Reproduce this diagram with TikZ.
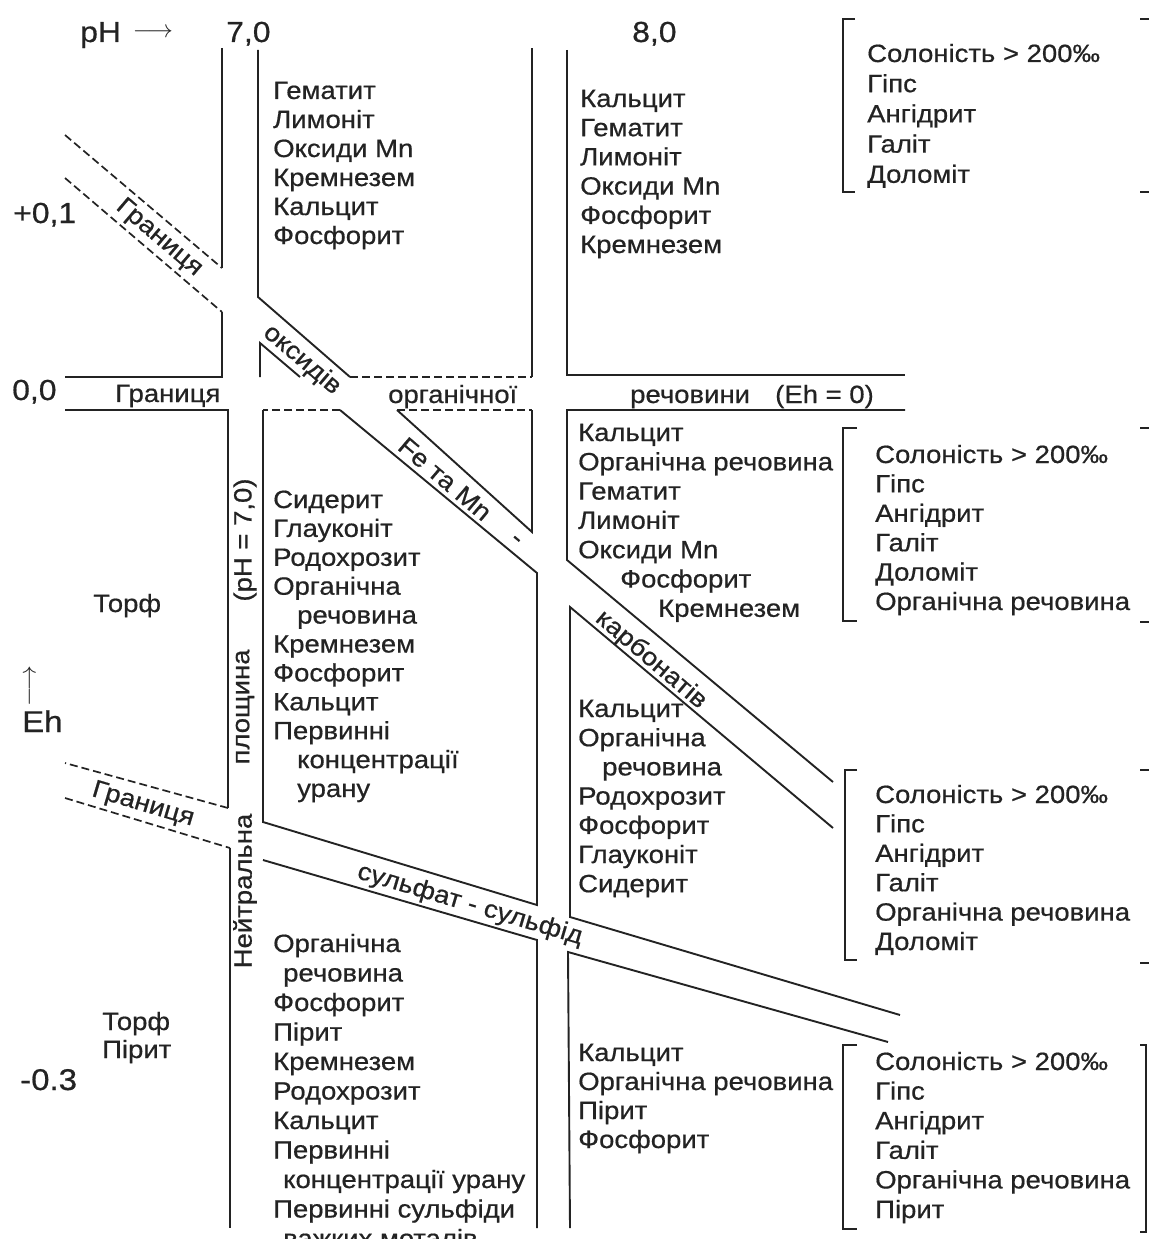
\documentclass[tikz,border=0pt]{standalone}
\usepackage{fontspec}
\setmainfont{Liberation Sans}[FakeStretch=1.1, FakeBold=0.6]
\definecolor{ink}{RGB}{35,35,35}
\tikzset{
  ln/.style={draw=ink, line width=1.9pt},
  dsh/.style={draw=ink, line width=1.7pt, dash pattern=on 8pt off 4pt},
  txt/.style={inner sep=0pt, text=ink, font=\fontsize{25}{29}\selectfont, anchor=base west},
  axl/.style={inner sep=0pt, text=ink, font=\fontsize{29}{33}\selectfont, anchor=base west},
  rot/.style={inner sep=0pt, text=ink, font=\fontsize{25}{29}\selectfont, anchor=center},
}
\newcommand\mincol[5]{\foreach \t [count=\i] in {#5}{\node[txt] (#1\i) at ({#2},{#3+(\i-1)*#4}) {\t};}}
\begin{document}
\begin{tikzpicture}[x=1pt,y=-1pt]
\useasboundingbox (0,0) rectangle (1149,1239);
% ---------- axis labels
\node[axl] (ph) at (80,42) {pH};
\node[inner sep=0pt, text=ink, font=\fontsize{24}{28}\selectfont] (pharrow) at (153,33) {$\longrightarrow$};
\node[axl] (ph7) at (226,42) {7,0};
\node[axl] (ph8) at (632,42) {8,0};
\node[axl] (ehp) at (13,223) {+0,1};
\node[axl] (ehz) at (12,400) {0,0};
\node[axl, font=\fontsize{30}{34}\selectfont] (ehm) at (20,1090) {-0.3};
\node[inner sep=0pt, text=ink, font=\fontsize{24}{28}\selectfont, rotate=90] (eharrow) at (31,686) {$\longrightarrow$};
\node[axl, font=\fontsize{30}{34}\selectfont] (eh) at (22,732) {Eh};
% ---------- lines: upper part
\draw[ln] (222,48) -- (222,268);
\draw[dsh] (65,135) -- (222,268);
\draw[dsh] (65,178) -- (222,312);
\draw[ln] (222,312) -- (222,377) -- (65,377);
\draw[ln] (258,50) -- (258,297) -- (350,377);
\draw[dsh] (350,377) -- (532,377);
\draw[ln] (532,377) -- (532,48);
\draw[ln] (260,377) -- (260,343) -- (300,377);
\draw[ln] (567,50) -- (567,375) -- (905,375);
% ---------- lines: middle
\draw[ln] (905,410) -- (567,410) -- (567,560) -- (833,782);
\draw[ln] (833,828) -- (570,607) -- (570,917) -- (900,1015);
\draw[ln] (888,1042) -- (568,952) -- (570,1228);
\draw[ln] (65,410) -- (228,410) -- (228,808);
\draw[dsh] (228,808) -- (65,763);
\draw[dsh] (65,798) -- (230,848);
\draw[ln] (230,848) -- (230,1228);
\draw[dsh] (340,410) -- (263,410);
\draw[ln] (263,410) -- (263,822) -- (537,905) -- (537,573) -- (340,410);
\draw[dsh] (397,410) -- (532,410);
\draw[ln] (532,410) -- (532,532) -- (397,410);
\draw[ln] (263,860) -- (537,940) -- (537,1228);
% ---------- brackets
\draw[ln] (855,19) -- (843,19) -- (843,192) -- (855,192);
\draw[ln] (857,428) -- (843,428) -- (843,621) -- (857,621);
\draw[ln] (857,770) -- (845,770) -- (845,960) -- (857,960);
\draw[ln] (857,1045) -- (843,1045) -- (843,1229) -- (857,1229);
\foreach \yy in {19,192,428,622,770,963} {\draw[ln] (1140,\yy) -- (1149,\yy);}
\draw[ln] (1140,1045) -- (1146,1045) -- (1146,1232) -- (1140,1232);
% ---------- band labels
\node[txt] (gr0) at (115,402) {Границя};
\node[txt] (org0) at (388,403) {органічної};
\node[txt] (rech0) at (630,403) {речовини};
\node[txt] (eh0) at (775,403) {(Eh = 0)};
\node[rot, rotate=-40.4] (gr1) at (159,238) {Границя};
\node[rot, rotate=-40.4] (oks) at (302,360) {оксидів};
\node[rot, rotate=-40.4] (femn) at (445,479) {Fe та Mn};
\node[rot, rotate=-40.4] (dash) at (515,541) {-};
\node[rot, rotate=-40.4] (karb) at (651,660) {карбонатів};
\node[rot, rotate=-16.5] (gr2) at (143,805) {Границя};
\node[rot, rotate=-16.5] (sulf) at (470,905) {сульфат - сульфід};
\node[rot, rotate=90] (neut) at (245,891) {Нейтральна};
\node[rot, rotate=90] (plos) at (245,707) {площина};
\node[rot, rotate=90] (ph70) at (245,540) {(pH = 7,0)};
% ---------- left texts
\node[txt] (torf1) at (93,612) {Торф};
\node[txt] (torf2) at (102,1030) {Торф};
\node[txt] (pyr2) at (102,1058) {Пірит};
% ---------- mineral columns
\mincol{A}{273}{99}{29}{Гематит, Лимоніт, Оксиди Mn, Кремнезем, Кальцит, Фосфорит}
\mincol{B}{580}{107}{29.2}{Кальцит, Гематит, Лимоніт, Оксиди Mn, Фосфорит, Кремнезем}
\mincol{C}{867}{62}{30.2}{Солоність > 200‰, Гіпс, Ангідрит, Галіт, Доломіт}
\mincol{D}{273}{508}{28.9}{Сидерит, Глауконіт, Родохрозит, Органічна, \hspace*{24pt}речовина, Кремнезем, Фосфорит, Кальцит, Первинні, \hspace*{24pt}концентрації, \hspace*{24pt}урану}
\mincol{E}{578}{441}{29.3}{Кальцит, Органічна речовина, Гематит, Лимоніт, Оксиди Mn, \hspace*{42pt}Фосфорит, \hspace*{80pt}Кремнезем}
\mincol{F}{875}{463}{29.4}{Солоність > 200‰, Гіпс, Ангідрит, Галіт, Доломіт, Органічна речовина}
\mincol{G}{578}{717}{29.2}{Кальцит, Органічна, \hspace*{24pt}речовина, Родохрозит, Фосфорит, Глауконіт, Сидерит}
\mincol{H}{875}{803}{29.4}{Солоність > 200‰, Гіпс, Ангідрит, Галіт, Органічна речовина, Доломіт}
\mincol{I}{273}{952}{29.5}{Органічна, \hspace*{10pt}речовина, Фосфорит, Пірит, Кремнезем, Родохрозит, Кальцит, Первинні, \hspace*{10pt}концентрації урану, Первинні сульфіди, \hspace*{10pt}важких металів}
\mincol{J}{578}{1061}{29}{Кальцит, Органічна речовина, Пірит, Фосфорит}
\mincol{K}{875}{1070}{29.6}{Солоність > 200‰, Гіпс, Ангідрит, Галіт, Органічна речовина, Пірит}
\end{tikzpicture}
\end{document}
